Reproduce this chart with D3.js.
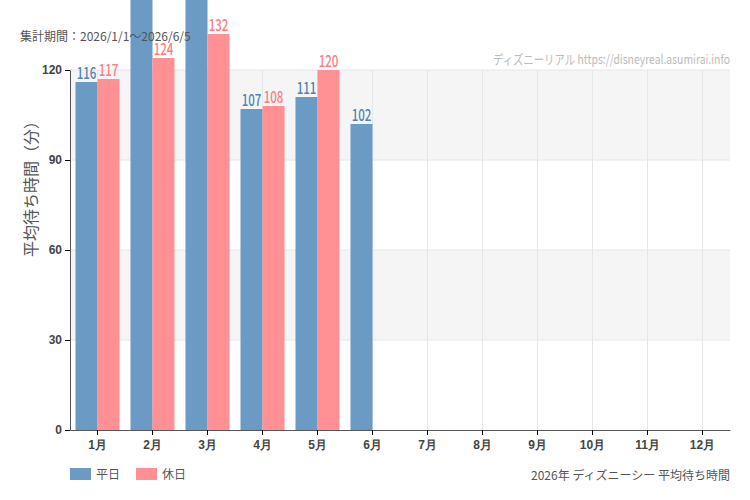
<!DOCTYPE html>
<html>
<head>
<meta charset="utf-8">
<script src="https://cdn.jsdelivr.net/npm/d3@7"></script>
<style>
  body { margin: 0; background: #fff; }
  svg { font-family: "Noto Sans CJK JP", "Noto Sans", sans-serif; }
</style>
</head>
<body>
<div id="chart"></div>
<script>
var width = 750, height = 500,
    margin = {top: 70, bottom: 70, left: 70, right: 20};

// data
var months = ['1月', '2月', '3月', '4月', '5月', '6月', '7月', '8月', '9月', '10月', '11月', '12月'];
var series = ['平日', '休日'];
var weekday = [116, 155, 160, 107, 111, 102, null, null, null, null, null, null];
var holiday = [117, 124, 132, 108, 120, null, null, null, null, null, null, null];
var yTicks = [0, 30, 60, 90, 120];
var colors = ['#6b9ac4', '#ff9195'];
var labelColors = ['#4f82b8', '#ff7b80'];

var data = months.map(function(m, i) {
    return {month: m, values: [weekday[i], holiday[i]]};
});

var svg = d3.select('#chart').append('svg')
    .attr('width', width)
    .attr('height', height);

var x = d3.scaleBand()
    .domain(months)
    .range([margin.left, width - margin.right])
    .paddingInner(0.2)
    .paddingOuter(0.1);
var x1 = d3.scaleBand()
    .domain(series)
    .range([0, x.bandwidth()]);
var y = d3.scaleLinear()
    .domain([0, 120])
    .range([height - margin.bottom, margin.top]);

// alternating bands
for (var i = 0; i < yTicks.length - 1; i++) {
    if ((yTicks.length - 2 - i) % 2 == 0) {
        svg.append('rect')
            .attr('x', margin.left)
            .attr('y', y(yTicks[i + 1]))
            .attr('width', width - margin.right - margin.left)
            .attr('height', y(yTicks[i]) - y(yTicks[i + 1]))
            .attr('fill', '#f4f5f4');
    }
}

// grid
svg.append('g').selectAll('line')
    .data(yTicks.slice(1))
    .join('line')
    .attr('x1', margin.left).attr('x2', width - margin.right)
    .attr('y1', d => y(d)).attr('y2', d => y(d))
    .attr('stroke', '#e6e6e6');
svg.append('g').selectAll('line')
    .data(months)
    .join('line')
    .attr('x1', d => x(d) + x.bandwidth() / 2).attr('x2', d => x(d) + x.bandwidth() / 2)
    .attr('y1', y(120)).attr('y2', y(0))
    .attr('stroke', '#e6e6e6');

// bars
var groups = svg.append('g').selectAll('g')
    .data(data)
    .join('g')
    .attr('transform', d => `translate(${x(d.month)},0)`);

groups.selectAll('rect')
    .data(d => d.values.map((v, k) => ({key: series[k], k: k, v: v})).filter(e => e.v != null))
    .join('rect')
    .attr('x', d => x1(d.key))
    .attr('y', d => y(d.v))
    .attr('width', x1.bandwidth())
    .attr('height', d => y(0) - y(d.v))
    .attr('fill', d => colors[d.k]);

// condensed value labels (squeezed horizontally)
groups.selectAll('text')
    .data(d => d.values.map((v, k) => ({key: series[k], k: k, v: v})).filter(e => e.v != null && y(e.v) > 20))
    .join('text')
    .attr('transform', d => `translate(${x1(d.key) + x1.bandwidth() / 2},${y(d.v) - 3}) scale(0.72,1)`)
    .attr('text-anchor', 'middle')
    .attr('font-size', 16)
    .attr('font-weight', 500)
    .attr('fill', d => labelColors[d.k])
    .text(d => d.v);

// axes
var xAxis = svg.append('g')
    .attr('transform', `translate(0,${y(0)})`)
    .call(d3.axisBottom(x).tickSize(5).tickSizeOuter(0));
xAxis.select('.domain').attr('stroke', '#555');
xAxis.selectAll('text').attr('font-size', 12).attr('font-weight', 'bold').attr('fill', '#444').attr('dy', '0.95em');

var yAxis = svg.append('g')
    .attr('transform', `translate(${margin.left},0)`)
    .call(d3.axisLeft(y).tickValues(yTicks).tickSize(5).tickSizeOuter(0));
yAxis.select('.domain').attr('stroke', '#555');
yAxis.selectAll('text').attr('font-size', 12).attr('font-weight', 'bold').attr('fill', '#444');

// texts
svg.append('text')
    .attr('x', 20).attr('y', 41)
    .attr('font-size', 12).attr('fill', '#555')
    .text('集計期間：2026/1/1～2026/6/5');

svg.append('text')
    .attr('transform', `translate(${width - margin.right},64) scale(0.8,1)`)
    .attr('text-anchor', 'end')
    .attr('font-size', 13).attr('fill', '#bbb')
    .text('ディズニーリアル https://disneyreal.asumirai.info');

svg.append('text')
    .attr('transform', `translate(37,${(y(0) + y(120)) / 2 - 65}) rotate(-90)`)
    .attr('text-anchor', 'middle')
    .attr('font-size', 16).attr('fill', '#555')
    .text('平均待ち時間（分）');

// legend
var legend = svg.append('g').selectAll('g')
    .data(series)
    .join('g')
    .attr('transform', (d, i) => `translate(${70 + i * 66},468)`);
legend.append('rect')
    .attr('width', 21).attr('height', 12)
    .attr('fill', (d, i) => colors[i]);
legend.append('text')
    .attr('x', 26).attr('y', 11)
    .attr('font-size', 12).attr('fill', '#555')
    .text(d => d);

svg.append('text')
    .attr('x', width - margin.right).attr('y', 480)
    .attr('text-anchor', 'end')
    .attr('font-size', 12).attr('fill', '#555')
    .text('2026年 ディズニーシー 平均待ち時間');
</script>
</body>
</html>
